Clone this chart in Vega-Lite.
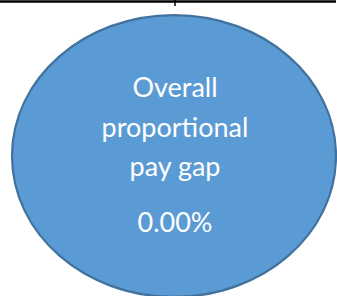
{
  "$schema": "https://vega.github.io/schema/vega-lite/v6.json",
  "width": 337,
  "height": 296,
  "autosize": {"type": "none"},
  "padding": 0,
  "background": "white",
  "config": {"view": {"stroke": null}},
  "datasets": {
    "shape": [{"cx": 174, "cy": 156}],
    "frame": [{"x1": 0, "x2": 336, "y": 1.5}],
    "tick": [{"x": 175, "y1": 0, "y2": 6}],
    "labels": [
      {"text": "Overall", "px": 175, "py": 89},
      {"text": "proportional", "px": 175, "py": 129},
      {"text": "pay gap", "px": 175, "py": 168},
      {"text": "0.00%", "px": 175, "py": 224}
    ]
  },
  "layer": [
    {
      "data": {"name": "shape"},
      "mark": {
        "type": "point",
        "shape": "M-1,0 A1,0.87 0 1,0 1,0 A1,0.87 0 1,0 -1,0 Z",
        "filled": true,
        "fill": "#5B9BD5",
        "stroke": "#41719C",
        "strokeWidth": 2.2,
        "opacity": 1,
        "size": 104976
      },
      "encoding": {
        "x": {"field": "cx", "type": "quantitative", "scale": {"domain": [0, 337], "nice": false, "zero": false}, "axis": null},
        "y": {"field": "cy", "type": "quantitative", "scale": {"domain": [296, 0], "nice": false, "zero": false}, "axis": null}
      }
    },
    {
      "data": {"name": "frame"},
      "mark": {"type": "rule", "color": "black", "strokeWidth": 2.5},
      "encoding": {
        "x": {"field": "x1", "type": "quantitative"},
        "x2": {"field": "x2"},
        "y": {"field": "y", "type": "quantitative"}
      }
    },
    {
      "data": {"name": "tick"},
      "mark": {"type": "rule", "color": "black", "strokeWidth": 1.5},
      "encoding": {
        "x": {"field": "x", "type": "quantitative"},
        "y": {"field": "y1", "type": "quantitative"},
        "y2": {"field": "y2"}
      }
    },
    {
      "data": {"name": "labels"},
      "mark": {"type": "text", "font": "Lato", "fontSize": 27, "color": "white", "align": "center", "baseline": "middle"},
      "encoding": {
        "x": {"field": "px", "type": "quantitative"},
        "y": {"field": "py", "type": "quantitative"},
        "text": {"field": "text"}
      }
    }
  ],
  "resolve": {"scale": {"x": "shared", "y": "shared"}}
}
